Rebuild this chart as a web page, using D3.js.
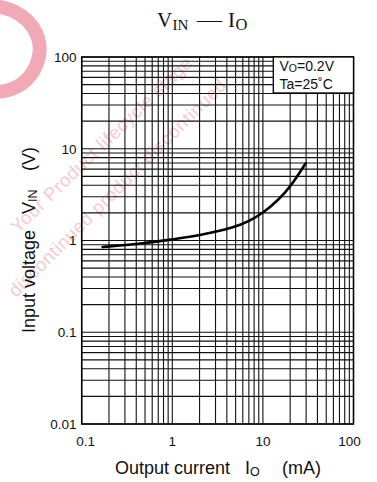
<!DOCTYPE html>
<html>
<head>
<meta charset="utf-8">
<script src="https://cdn.jsdelivr.net/npm/d3@7"></script>
<style>
  body { margin: 0; background: #fff; }
  svg { display: block; }
</style>
</head>
<body>
<div id="chart"></div>
<script>
// VIN - IO characteristic (log / log)
const currentMA = [0.17, 0.5, 1, 2, 5, 7, 10, 15, 20, 29.7];
const inputV = [0.85, 0.93, 1.03, 1.13, 1.4, 1.62, 1.98, 2.8, 3.8, 6.95];

const xTickValues = [0.1, 1, 10, 100];
const yTickValues = [0.01, 0.1, 1, 10, 100];
const xTickLabels = ["0.1", "1", "10", "100"];
const yTickLabels = ["0.01", "0.1", "1", "10", "100"];

const legendLines = [["V", "O", "=0.2V"], ["Ta=25˚C", "", ""]];

const width = 377, height = 482;
const plot = { left: 81.7, right: 353.5, top: 57, bottom: 424 };

const svg = d3.select("#chart").append("svg")
  .attr("width", width)
  .attr("height", height);

// filigrane rose en fond
const wm = svg.append("g").attr("fill", "#f3b5c0").attr("font-family", "Liberation Sans, Arial, sans-serif");
wm.append("path")
  .attr("d", "M -6 6 C 30 10, 50 40, 34 70 C 26 84, 12 92, -6 92")
  .attr("fill", "none")
  .attr("stroke", "#f2a9b6")
  .attr("stroke-width", 14);
wm.append("text")
  .attr("transform", "translate(18,234) rotate(-44)")
  .attr("font-size", 18.5)
  .attr("letter-spacing", 0.6)
  .attr("opacity", 0.7)
  .text("Your Product lifecycle stage");
wm.append("text")
  .attr("transform", "translate(16,298) rotate(-45)")
  .attr("font-size", 18.5)
  .attr("letter-spacing", 0.6)
  .attr("opacity", 0.7)
  .text("discontinued product discontinued");

const x = d3.scaleLog().domain([0.1, 100]).range([plot.left, plot.right]);
const y = d3.scaleLog().domain([0.01, 100]).range([plot.bottom, plot.top]);

// grille
const grid = svg.append("g").attr("stroke", "#111").attr("stroke-width", 1.1);
grid.selectAll(".vx")
  .data(x.ticks())
  .join("line")
  .attr("x1", d => x(d)).attr("x2", d => x(d))
  .attr("y1", plot.top).attr("y2", plot.bottom);
grid.selectAll(".hy")
  .data(y.ticks())
  .join("line")
  .attr("y1", d => y(d)).attr("y2", d => y(d))
  .attr("x1", plot.left).attr("x2", plot.right);

// cadre
svg.append("rect")
  .attr("x", plot.left).attr("y", plot.top)
  .attr("width", plot.right - plot.left)
  .attr("height", plot.bottom - plot.top)
  .attr("fill", "none")
  .attr("stroke", "#000")
  .attr("stroke-width", 1.5);

// courbe
const line = d3.line()
  .x((d, i) => x(currentMA[i]))
  .y(d => y(d))
  .curve(d3.curveBasis);
svg.append("path")
  .datum(inputV)
  .attr("d", line)
  .attr("fill", "none")
  .attr("stroke", "#000")
  .attr("stroke-width", 2.6)
  .attr("stroke-linecap", "round");

// légende
const legend = svg.append("g");
legend.append("rect")
  .attr("x", 273.3).attr("y", plot.top)
  .attr("width", plot.right - 273.3).attr("height", 36)
  .attr("fill", "#fff")
  .attr("stroke", "#000")
  .attr("stroke-width", 1.3);
legendLines.forEach((l, i) => {
  const t = legend.append("text")
    .attr("x", 279.5).attr("y", 70.7 + i * 18.3)
    .attr("font-family", "Liberation Sans, Arial, sans-serif")
    .attr("font-size", 14)
    .attr("fill", "#111");
  t.append("tspan").text(l[0]);
  if (l[1]) {
    t.append("tspan").attr("font-size", 10.5).attr("dy", 1).text(l[1]);
    t.append("tspan").attr("dy", -1).text(l[2]);
  }
});

// étiquettes des axes
const font = "Liberation Sans, Arial, Helvetica, sans-serif";
svg.append("g").selectAll("text")
  .data(yTickValues)
  .join("text")
  .attr("x", 76.5)
  .attr("y", d => y(d))
  .attr("dy", "0.36em")
  .attr("text-anchor", "end")
  .attr("font-family", font)
  .attr("font-size", 13.5)
  .attr("fill", "#111")
  .text((d, i) => yTickLabels[i]);

svg.append("g").selectAll("text")
  .data(xTickValues)
  .join("text")
  .attr("x", (d, i) => x(d) + (i === 0 ? 4 : i === xTickValues.length - 1 ? -4 : 0))
  .attr("y", 446)
  .attr("text-anchor", "middle")
  .attr("font-family", font)
  .attr("font-size", 13.5)
  .attr("fill", "#111")
  .text((d, i) => xTickLabels[i]);

// titre de l'axe x
const xt = svg.append("text")
  .attr("y", 474)
  .attr("font-family", font)
  .attr("font-size", 18)
  .attr("fill", "#111");
xt.append("tspan").attr("x", 115).text("Output current");
xt.append("tspan").attr("x", 245).text("I");
xt.append("tspan").attr("font-size", 12.5).attr("dy", 1.5).text("O");
xt.append("tspan").attr("x", 282).attr("dy", -1.5).text("(mA)");

// titre de l'axe y
const yt = svg.append("text")
  .attr("transform", "translate(35,0) rotate(-90)")
  .attr("font-family", font)
  .attr("font-size", 18)
  .attr("fill", "#111");
yt.append("tspan").attr("x", -333).text("Input voltage");
yt.append("tspan").attr("x", -214).text("V");
yt.append("tspan").attr("font-size", 12.5).attr("dy", 1.5).text("IN");
yt.append("tspan").attr("x", -171).attr("dy", -1.5).text("(V)");

// titre
const title = svg.append("text")
  .attr("y", 26.7)
  .attr("font-family", "Liberation Serif, Times New Roman, serif")
  .attr("font-size", 21)
  .attr("fill", "#111");
title.append("tspan").attr("x", 157).text("V");
title.append("tspan").attr("x", 172.5).attr("font-size", 15).attr("dy", 3).text("IN");
title.append("tspan").attr("x", 197).attr("dy", -3)
  .attr("textLength", 25).attr("lengthAdjust", "spacingAndGlyphs").text("—");
title.append("tspan").attr("x", 228).text("I");
title.append("tspan").attr("x", 235.5).attr("font-size", 16.5).attr("dy", 3).text("O");
</script>
</body>
</html>
